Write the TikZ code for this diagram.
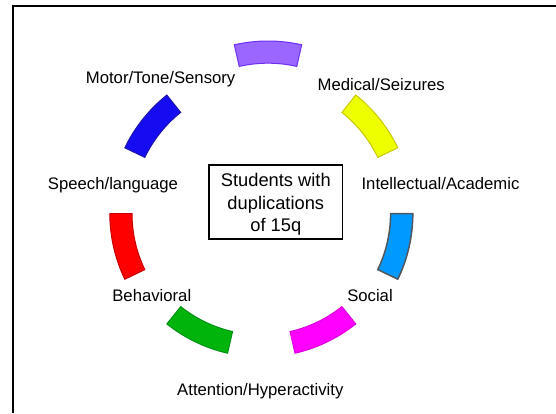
\documentclass[tikz,border=0pt]{standalone}
\usepackage{fontspec}
\setmainfont{Liberation Sans}
\usetikzlibrary{calc}
\definecolor{purplefill}{RGB}{153,102,255}
\definecolor{purpledraw}{RGB}{112,48,240}
\definecolor{bluefill}{RGB}{22,12,242}
\definecolor{bluedraw}{RGB}{30,20,170}
\definecolor{yellowfill}{RGB}{238,255,0}
\definecolor{yellowdraw}{RGB}{200,200,0}
\definecolor{cyanfill}{RGB}{0,153,255}
\definecolor{cyandraw}{RGB}{80,88,95}
\definecolor{magentafill}{RGB}{255,0,255}
\definecolor{magentadraw}{RGB}{220,0,220}
\definecolor{greenfill}{RGB}{0,180,12}
\definecolor{greendraw}{RGB}{0,145,20}
\definecolor{redfill}{RGB}{255,0,0}
\definecolor{reddraw}{RGB}{200,0,0}
\newcommand\ringseg[4]{\draw[#4] ($(#1)+(#2:151.5pt)$) arc[start angle=#2,end angle=#3,radius=151.5pt] -- ($(#1)+(#3:129.3pt)$) arc[start angle=#3,end angle=#2,radius=129.3pt] -- cycle;}
\begin{document}
\begin{tikzpicture}[x=1pt,y=1pt,
  seg/.style={line width=1pt, line join=miter},
  lbl/.style={anchor=base, inner sep=0pt, font=\fontsize{16.7}{20}\selectfont},
  framebox/.style={line width=2.3pt, draw=black},
  centerbox/.style={draw=black, line width=1.2pt, minimum width=133.7pt, minimum height=74pt, inner sep=0pt},
  centertext/.style={align=center, inner sep=0pt, font=\fontsize{18.3}{22.5}\selectfont}
]
\useasboundingbox (0,0) rectangle (556,413);
\fill[white] (0,0) rectangle (556,413);
\coordinate (frameTR) at (556,407);
\coordinate (frameTL) at (13,407);
\coordinate (frameBL) at (13,0);
\draw[framebox] (frameTR) -- (frameTL) -- (frameBL);
\coordinate (c0) at (261.3,199.5);
\coordinate (cp) at (268,220.5);
\coordinate (cg) at (261.3,207.5);
\ringseg{c0}{25.714}{51.429}{seg, fill=yellowfill, draw=yellowdraw}
\ringseg{cp}{77.143}{102.857}{seg, fill=purplefill, draw=purpledraw}
\ringseg{c0}{128.571}{154.286}{seg, fill=bluefill, draw=bluedraw}
\ringseg{c0}{180}{205.714}{seg, fill=redfill, draw=reddraw}
\ringseg{cg}{231.429}{257.143}{seg, fill=greenfill, draw=greendraw}
\ringseg{cg}{282.857}{308.571}{seg, fill=magentafill, draw=magentadraw}
\ringseg{c0}{334.286}{360}{seg, line width=1.5pt, fill=cyanfill, draw=cyandraw}
\node[lbl] (motor) at (160.6,329.7) {Motor/Tone/Sensory};
\node[lbl] (medical) at (381.2,322) {Medical/Seizures};
\node[lbl] (intel) at (440.5,223.7) {Intellectual/Academic};
\node[lbl] (speech) at (113,224) {Speech/language};
\node[lbl] (behav) at (151.8,111.3) {Behavioral};
\node[lbl] (social) at (370,111.3) {Social};
\node[lbl] (attn) at (260.3,18) {Attention/Hyperactivity};
\node[centerbox] (box) at (275.8,211) {};
\node[centertext] (boxtext) at (275.8,208.6) {Students with\\duplications\\of 15q};
\end{tikzpicture}
\end{document}
